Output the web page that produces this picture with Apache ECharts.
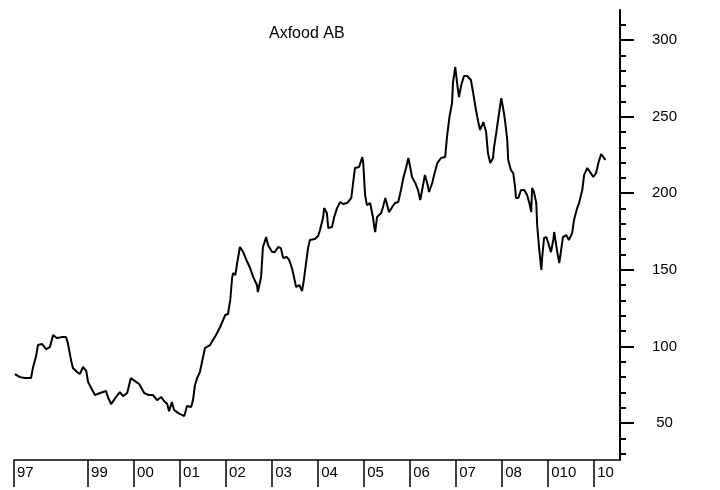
<!DOCTYPE html>
<html>
<head>
<meta charset="utf-8">
<script src="https://cdn.jsdelivr.net/npm/echarts@6/dist/echarts.min.js"></script>
<style>
  body { margin: 0; background: #fff; }
  #chart { width: 720px; height: 490px; }
</style>
</head>
<body>
<div id="chart"></div>
<script>
// tidpunkter (år med decimaler) och kurs
var dates = [
  1997.41, 1997.52, 1997.63, 1997.76, 1997.80, 1997.87, 1997.91, 1998.00, 1998.09, 1998.17,
  1998.24, 1998.32, 1998.43, 1998.52, 1998.56, 1998.63, 1998.67, 1998.76, 1998.82, 1998.89,
  1998.96, 1999.00, 1999.09, 1999.15, 1999.26, 1999.39, 1999.43, 1999.50, 1999.59, 1999.69,
  1999.76, 1999.85, 1999.93, 2000.02, 2000.11, 2000.22, 2000.32, 2000.41, 2000.50, 2000.59,
  2000.65, 2000.72, 2000.76, 2000.82, 2000.87, 2000.96, 2001.09, 2001.15, 2001.24, 2001.28,
  2001.32, 2001.37, 2001.43, 2001.54, 2001.65, 2001.78, 2001.87, 2001.98, 2002.04, 2002.09,
  2002.13, 2002.15, 2002.20, 2002.24, 2002.30, 2002.37, 2002.46, 2002.52, 2002.59, 2002.67,
  2002.69, 2002.76, 2002.78, 2002.80, 2002.87, 2002.91, 2003.00, 2003.06, 2003.13, 2003.19,
  2003.24, 2003.32, 2003.37, 2003.43, 2003.48, 2003.52, 2003.59, 2003.65, 2003.69, 2003.74,
  2003.78, 2003.82, 2003.93, 2004.00, 2004.04, 2004.11, 2004.13, 2004.19, 2004.22, 2004.30,
  2004.35, 2004.41, 2004.48, 2004.54, 2004.63, 2004.72, 2004.76, 2004.80, 2004.89, 2004.96,
  2004.98, 2005.02, 2005.06, 2005.13, 2005.19, 2005.22, 2005.24, 2005.28, 2005.37, 2005.41,
  2005.46, 2005.50, 2005.54, 2005.61, 2005.67, 2005.74, 2005.80, 2005.85, 2005.91, 2005.96,
  2006.00, 2006.04, 2006.11, 2006.17, 2006.22, 2006.26, 2006.32, 2006.37, 2006.41, 2006.48,
  2006.52, 2006.59, 2006.67, 2006.76, 2006.80, 2006.85, 2006.91, 2006.93, 2006.98, 2007.02,
  2007.06, 2007.11, 2007.17, 2007.24, 2007.32, 2007.37, 2007.43, 2007.48, 2007.52, 2007.59,
  2007.65, 2007.69, 2007.74, 2007.80, 2007.82, 2007.87, 2007.91, 2007.98, 2008.02, 2008.06,
  2008.11, 2008.13, 2008.19, 2008.24, 2008.28, 2008.30, 2008.35, 2008.41, 2008.48, 2008.54,
  2008.59, 2008.63, 2008.65, 2008.69, 2008.74, 2008.76, 2008.80, 2008.85, 2008.87, 2008.91,
  2008.96, 2009.00, 2009.06, 2009.11, 2009.13, 2009.19, 2009.24, 2009.28, 2009.32, 2009.39,
  2009.45, 2009.52, 2009.56, 2009.63, 2009.67, 2009.74, 2009.78, 2009.85, 2009.91, 2009.98,
  2010.04, 2010.09, 2010.15, 2010.20, 2010.24
]
var prices = [
  82.0, 80.0, 79.4, 79.4, 85.9, 93.7, 100.9, 101.6, 98.3, 99.6,
  107.5, 105.5, 106.1, 106.1, 102.2, 91.1, 85.9, 83.3, 82.0, 86.6,
  84.0, 76.8, 71.6, 68.3, 69.6, 70.9, 67.0, 62.4, 66.3, 70.2,
  67.6, 69.6, 79.4, 77.4, 75.5, 69.6, 68.3, 68.3, 65.0, 67.0,
  64.4, 62.4, 57.8, 63.7, 58.5, 56.5, 54.6, 61.1, 60.5, 65.0,
  74.2, 79.4, 83.3, 99.0, 100.9, 107.5, 112.7, 120.5, 121.2, 130.3,
  144.7, 147.9, 146.6, 154.4, 164.9, 161.6, 155.1, 151.2, 145.3, 140.1,
  135.5, 145.3, 155.1, 164.9, 171.4, 166.2, 161.6, 161.6, 164.9, 164.2,
  157.7, 158.4, 156.4, 151.2, 144.7, 138.8, 140.1, 136.2, 143.4, 155.1,
  164.2, 169.5, 170.1, 172.1, 176.0, 184.5, 190.3, 187.1, 177.3, 178.0,
  184.5, 190.3, 194.3, 193.0, 193.6, 196.9, 206.7, 216.5, 217.1, 223.6,
  219.7, 198.8, 192.3, 193.6, 184.5, 178.0, 174.7, 184.5, 187.1, 191.0,
  196.9, 192.3, 187.7, 191.0, 193.6, 194.3, 202.1, 209.9, 216.5, 223.0,
  217.1, 210.6, 206.7, 202.1, 195.6, 202.1, 211.9, 206.7, 200.8, 206.7,
  211.9, 219.7, 223.0, 223.6, 236.7, 249.1, 258.9, 271.9, 282.4, 271.9,
  262.8, 270.6, 276.5, 276.5, 273.9, 265.4, 254.3, 246.5, 241.3, 246.5,
  240.0, 226.2, 219.7, 223.0, 229.5, 239.3, 247.8, 262.1, 255.6, 247.8,
  234.7, 221.7, 215.1, 213.2, 204.1, 196.9, 196.9, 202.1, 202.1, 198.8,
  193.6, 187.7, 203.4, 200.8, 193.6, 179.3, 164.9, 149.9, 158.4, 170.8,
  171.4, 167.5, 161.6, 169.5, 174.7, 162.9, 154.4, 162.9, 171.4, 172.7,
  169.5, 174.0, 182.5, 190.3, 193.6, 202.1, 211.9, 216.5, 213.8, 210.6,
  213.2, 219.7, 225.6, 223.6, 221.7
]
// årsmarkeringar på x-axeln
var yearTicks = [1997.39, 1999, 2000, 2001, 2002, 2003, 2004, 2005, 2006, 2007, 2008, 2009, 2010]
var yearLabels = ['97', '99', '00', '01', '02', '03', '04', '05', '06', '07', '08', '010', '10']
// y-axelns markeringar
var majorTicks = [50, 100, 150, 200, 250, 300]
var minorTicks = [30, 40, 60, 70, 80, 90, 110, 120, 130, 140, 160, 170, 180, 190, 210, 220, 230, 240, 260, 270, 280, 290, 310]

var seriesData = dates.map(function(d, i) { return [d, prices[i]] })

var chart = echarts.init(document.getElementById('chart'))
var font = 'Liberation Sans'
chart.setOption({
  animation: false,
  backgroundColor: '#fff',
  title: {
    text: 'Axfood AB',
    left: 264,
    top: 21,
    textStyle: { fontFamily: font, fontSize: 16, fontWeight: 'normal', color: '#000' }
  },
  grid: { left: 14, right: 100, top: 10, bottom: 30 },
  xAxis: {
    type: 'value',
    min: 1997.39,
    max: 2010.56,
    splitLine: { show: false },
    axisLine: { lineStyle: { color: '#000', width: 1.5 } },
    axisTick: {
      customValues: yearTicks,
      length: 27,
      lineStyle: { color: '#000', width: 1.5 }
    },
    axisLabel: {
      customValues: yearTicks,
      align: 'left',
      margin: 5,
      padding: [0, 0, 0, 3],
      fontFamily: font,
      fontSize: 15,
      color: '#000',
      formatter: function(v) {
        var i = yearTicks.indexOf(v)
        return i >= 0 ? yearLabels[i] : ''
      }
    }
  },
  yAxis: [
    {
      type: 'value',
      position: 'right',
      min: 25.9,
      max: 319.6,
      splitLine: { show: false },
      axisLine: { show: true, lineStyle: { color: '#000', width: 2 } },
      axisTick: { customValues: minorTicks, length: 6, lineStyle: { color: '#000', width: 2 } },
      axisLabel: {
        customValues: majorTicks,
        align: 'left',
        margin: 28,
        fontFamily: font,
        fontSize: 15,
        color: '#000',
        formatter: function(v) { return '{a|' + v + '}' },
        rich: { a: { width: 33, align: 'center', fontFamily: font, fontSize: 15, color: '#000' } }
      }
    },
    {
      // bara de långa markeringarna
      type: 'value',
      position: 'right',
      min: 25.9,
      max: 319.6,
      splitLine: { show: false },
      axisLine: { show: false },
      axisTick: { customValues: majorTicks, length: 14, lineStyle: { color: '#000', width: 2 } },
      axisLabel: { show: false }
    }
  ],
  series: [
    {
      type: 'line',
      data: seriesData,
      showSymbol: false,
      lineStyle: { color: '#000', width: 2 }
    }
  ]
})
</script>
</body>
</html>
